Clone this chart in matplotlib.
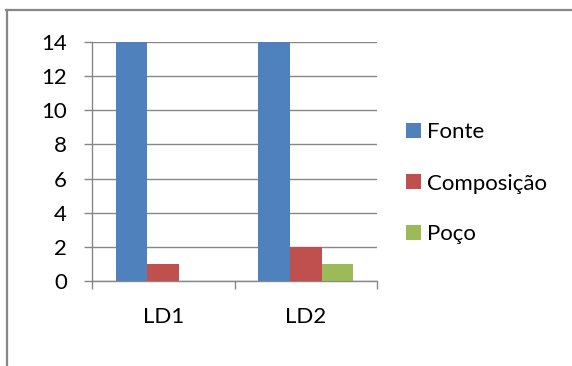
import matplotlib
matplotlib.use("Agg")
import matplotlib.pyplot as plt
import numpy as np
from matplotlib.lines import Line2D
from matplotlib.patches import Rectangle

# data
categories = ["LD1", "LD2"]
series = ["Fonte", "Composição", "Poço"]
fonte = [14, 14]
composicao = [1, 2]
poco = [0, 1]
colors = ["#4F81BD", "#C0504D", "#9BBB59"]

W, H = 572, 366
GRAY = "#878787"
FS = 16

plt.rcParams["font.family"] = ["Lato", "DejaVu Sans"]

fig = plt.figure(figsize=(W / 100, H / 100), dpi=100)
fig.patch.set_facecolor("white")


def fx(px):
    return px / W


def fy(py):
    return 1 - py / H


ax = fig.add_axes([fx(92), fy(281), fx(377 - 92), (281 - 42) / H])

x = np.arange(len(categories))
bw = 1 / 4.5
for i, (vals, c) in enumerate(zip([fonte, composicao, poco], colors)):
    ax.bar(x + (i - 1) * bw, vals, width=bw, color=c, zorder=3)

ax.set_xlim(-0.5, len(categories) - 0.5)
ax.set_ylim(0, 14)
ax.set_yticks(range(0, 15, 2))
ax.yaxis.grid(True, color=GRAY, lw=1.0, zorder=0)
ax.set_axisbelow(True)

for s in ("top", "right"):
    ax.spines[s].set_visible(False)
for s in ("left", "bottom"):
    ax.spines[s].set_color(GRAY)
    ax.spines[s].set_linewidth(1.0)

ax.tick_params(axis="y", direction="out", length=6, width=1.0, color=GRAY,
               labelsize=FS, pad=12)
ax.set_xticks(x)
ax.set_xticklabels(categories)
ax.set_xticks(np.arange(-0.5, len(categories)), minor=True)
ax.tick_params(axis="x", which="major", length=0, labelsize=FS, pad=19)
ax.tick_params(axis="x", which="minor", direction="out", length=6, width=1.0,
               color=GRAY)

# legend (manual, Excel-like)
y0, step = 130.5, 51
for i, (name, c) in enumerate(zip(series, colors)):
    yc = y0 + i * step
    fig.patches.append(Rectangle((fx(406), fy(yc + 7.5)), fx(15), 15 / H,
                                 transform=fig.transFigure, facecolor=c,
                                 edgecolor="none"))
    fig.text(fx(427), fy(yc + 8), name, fontsize=FS, va="baseline",
             ha="left", color="black")

# chart frame (top and left edges visible)
fig.add_artist(Line2D([fx(6), 1], [fy(10), fy(10)], color=GRAY, lw=1.6,
                      transform=fig.transFigure))
fig.add_artist(Line2D([fx(6.5), fx(6.5)], [fy(10), 0], color=GRAY, lw=1.6,
                      transform=fig.transFigure))

fig.savefig("out.png", dpi=100, facecolor="white")
